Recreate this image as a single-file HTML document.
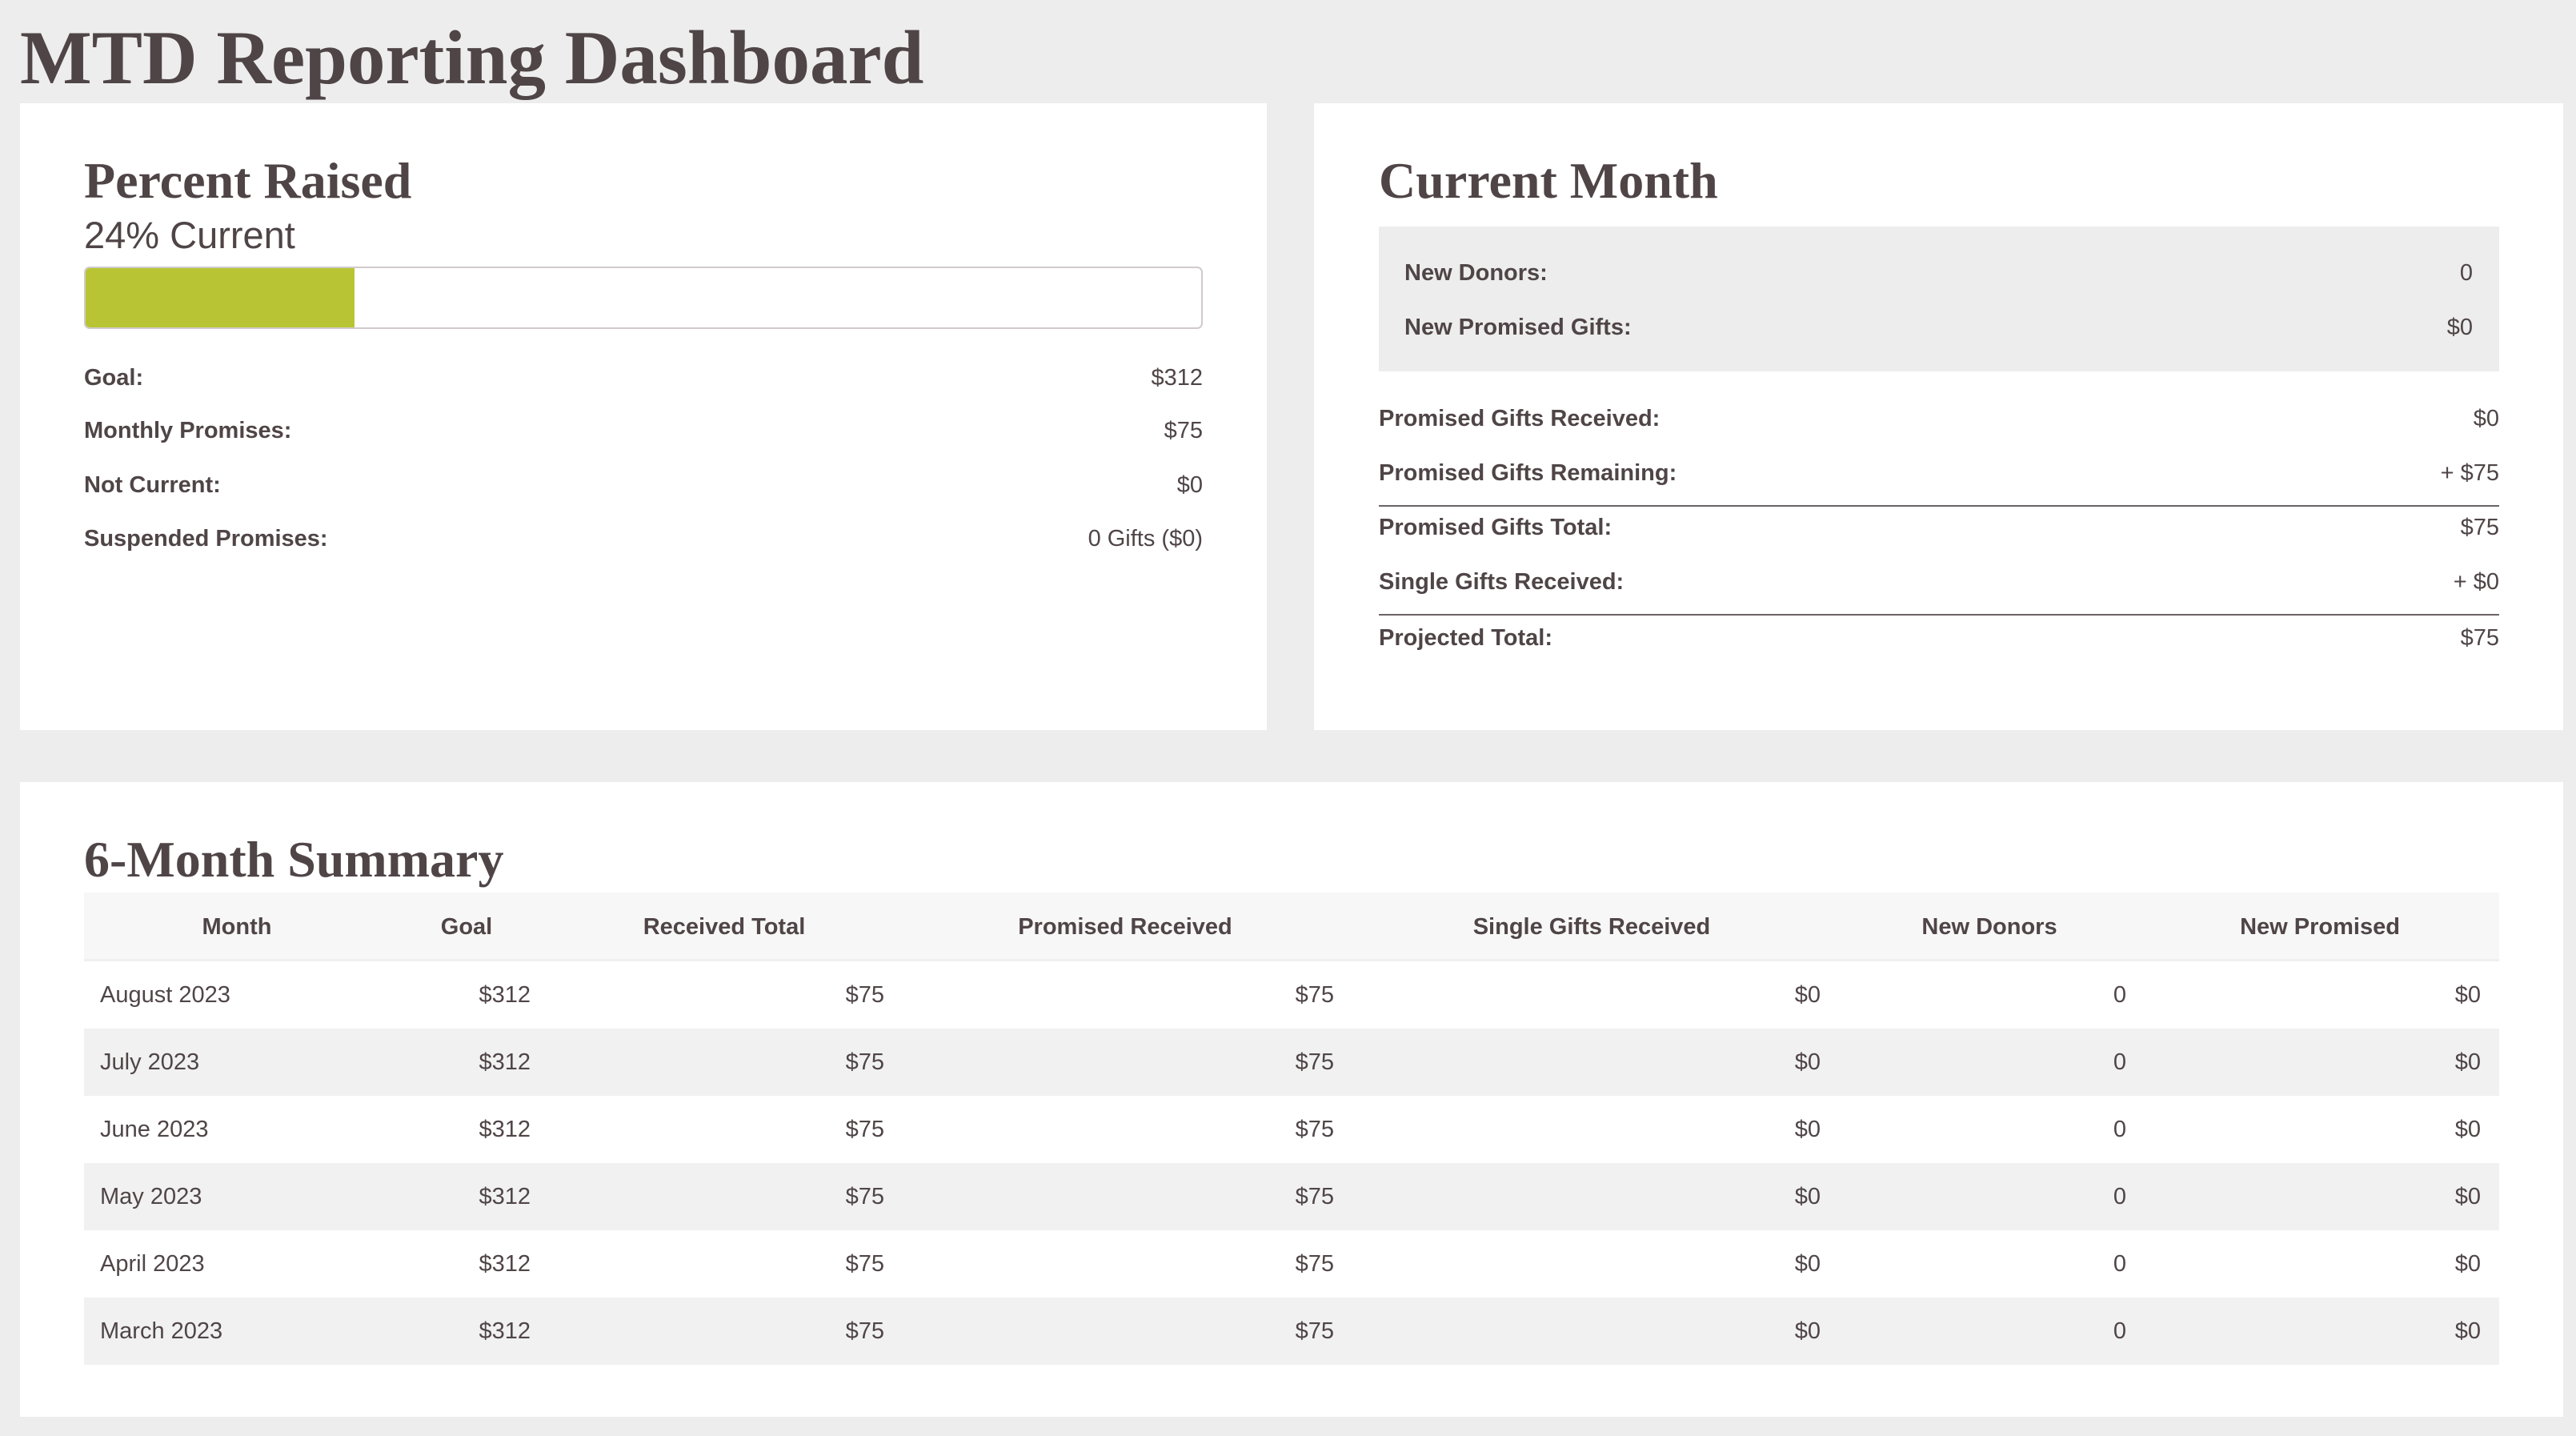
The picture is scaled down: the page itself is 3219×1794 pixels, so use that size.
<!DOCTYPE html>
<html><head><meta charset="utf-8"><style>
*{margin:0;padding:0;box-sizing:border-box}
body{width:3219px;height:1794px;background:#ededed;position:relative;overflow:hidden;color:#4f4547;font-family:"Liberation Sans Narrow","Liberation Sans",sans-serif}
.a{position:absolute;white-space:nowrap}
.card{position:absolute;background:#fff}
.h{font-family:"Liberation Serif",serif;font-weight:bold;color:#4f4547}
.t{font-size:29px;line-height:40px;height:40px}
.b{font-weight:bold}
.r{text-align:right}
.c{text-align:center}
.line{position:absolute;height:2px;background:#6b6265}
</style></head><body>
<div class="a h" style="left:25px;top:14px;font-size:95px;line-height:116px">MTD Reporting Dashboard</div>

<div class="card" style="left:25px;top:129px;width:1558px;height:783px"></div>
<div class="card" style="left:1642px;top:129px;width:1561px;height:783px"></div>
<div class="card" style="left:25px;top:977px;width:3178px;height:793px"></div>

<div class="a h" style="left:105px;top:188px;font-size:64px;line-height:76px">Percent Raised</div>
<div class="a" style="left:105px;top:264px;font-size:47px;line-height:60px">24% Current</div>
<div class="a" style="left:105px;top:333px;width:1398px;height:78px;border:2px solid #d0cacc;border-radius:7px;overflow:hidden;background:#fff"><div style="width:336px;height:100%;background:#b8c433"></div></div>

<div class="a t b" style="left:105px;top:452px">Goal:</div><div class="a t r" style="right:1716px;top:452px">$312</div>
<div class="a t b" style="left:105px;top:518px">Monthly Promises:</div><div class="a t r" style="right:1716px;top:518px">$75</div>
<div class="a t b" style="left:105px;top:586px">Not Current:</div><div class="a t r" style="right:1716px;top:586px">$0</div>
<div class="a t b" style="left:105px;top:653px">Suspended Promises:</div><div class="a t r" style="right:1716px;top:653px">0 Gifts ($0)</div>

<div class="a h" style="left:1723px;top:188px;font-size:64px;line-height:76px">Current Month</div>
<div class="a" style="left:1723px;top:283px;width:1400px;height:181px;background:#ededed"></div>
<div class="a t b" style="left:1755px;top:321px">New Donors:</div><div class="a t r" style="right:129px;top:321px">0</div>
<div class="a t b" style="left:1755px;top:389px">New Promised Gifts:</div><div class="a t r" style="right:129px;top:389px">$0</div>
<div class="a t b" style="left:1723px;top:503px">Promised Gifts Received:</div><div class="a t r" style="right:96px;top:503px">$0</div>
<div class="a t b" style="left:1723px;top:571px">Promised Gifts Remaining:</div><div class="a t r" style="right:96px;top:571px">+ $75</div>
<div class="line" style="left:1723px;top:631px;width:1400px"></div>
<div class="a t b" style="left:1723px;top:639px">Promised Gifts Total:</div><div class="a t r" style="right:96px;top:639px">$75</div>
<div class="a t b" style="left:1723px;top:707px">Single Gifts Received:</div><div class="a t r" style="right:96px;top:707px">+ $0</div>
<div class="line" style="left:1723px;top:767px;width:1400px"></div>
<div class="a t b" style="left:1723px;top:777px">Projected Total:</div><div class="a t r" style="right:96px;top:777px">$75</div>

<div class="a h" style="left:105px;top:1036px;font-size:64px;line-height:76px">6-Month Summary</div>
<div class="a" style="left:105px;top:1115px;width:3018px;height:86px;background:#f7f7f7;border-bottom:3px solid #efefef"></div>
<div class="a" style="left:105px;top:1285px;width:3018px;height:84px;background:#f1f1f1"></div>
<div class="a" style="left:105px;top:1453px;width:3018px;height:84px;background:#f1f1f1"></div>
<div class="a" style="left:105px;top:1621px;width:3018px;height:84px;background:#f1f1f1"></div>

<div class="a t b c" style="left:196px;width:200px;top:1138px">Month</div>
<div class="a t b c" style="left:483px;width:200px;top:1138px">Goal</div>
<div class="a t b c" style="left:755px;width:300px;top:1138px">Received Total</div>
<div class="a t b c" style="left:1206px;width:400px;top:1138px">Promised Received</div>
<div class="a t b c" style="left:1739px;width:500px;top:1138px">Single Gifts Received</div>
<div class="a t b c" style="left:2286px;width:400px;top:1138px">New Donors</div>
<div class="a t b c" style="left:2699px;width:400px;top:1138px">New Promised</div>

<div class="a t" style="left:125px;top:1223px">August 2023</div>
<div class="a t" style="left:125px;top:1307px">July 2023</div>
<div class="a t" style="left:125px;top:1391px">June 2023</div>
<div class="a t" style="left:125px;top:1475px">May 2023</div>
<div class="a t" style="left:125px;top:1559px">April 2023</div>
<div class="a t" style="left:125px;top:1643px">March 2023</div>

<div class="a t r" style="right:2556px;height:504px;white-space:pre-line;line-height:84px;top:1201px">$312
$312
$312
$312
$312
$312</div>
<div class="a t r" style="right:2114px;height:504px;white-space:pre-line;line-height:84px;top:1201px">$75
$75
$75
$75
$75
$75</div>
<div class="a t r" style="right:1552px;height:504px;white-space:pre-line;line-height:84px;top:1201px">$75
$75
$75
$75
$75
$75</div>
<div class="a t r" style="right:944px;height:504px;white-space:pre-line;line-height:84px;top:1201px">$0
$0
$0
$0
$0
$0</div>
<div class="a t r" style="right:562px;height:504px;white-space:pre-line;line-height:84px;top:1201px">0
0
0
0
0
0</div>
<div class="a t r" style="right:119px;height:504px;white-space:pre-line;line-height:84px;top:1201px">$0
$0
$0
$0
$0
$0</div>
</body></html>
